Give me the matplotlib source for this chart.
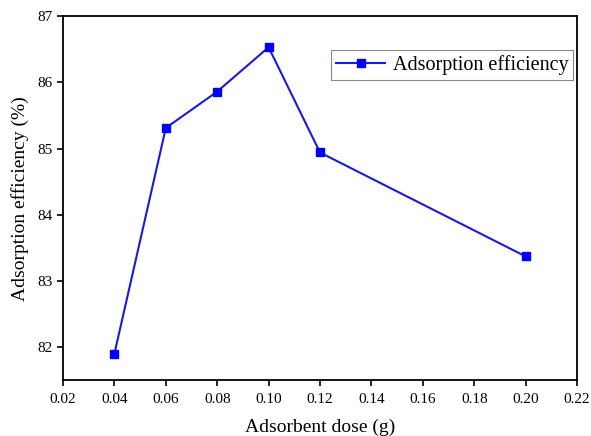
import matplotlib
matplotlib.use("Agg")
import matplotlib.pyplot as plt

# Adsorbent dose (g) vs adsorption efficiency (%)
dose = [0.04, 0.06, 0.08, 0.10, 0.12, 0.20]
efficiency = [81.90, 85.31, 85.86, 86.53, 84.94, 83.37]
x_ticks = [0.02, 0.04, 0.06, 0.08, 0.10, 0.12, 0.14, 0.16, 0.18, 0.20, 0.22]
y_ticks = [82, 83, 84, 85, 86, 87]

plt.rcParams["font.family"] = ["Liberation Serif", "DejaVu Serif"]

fig = plt.figure(figsize=(5.91, 4.36), dpi=100)
ax = fig.add_axes([0.1066, 0.128, 0.8697, 0.835])

ax.plot(dose, efficiency, color="#1a1adc", linewidth=1.5,
        marker="s", markersize=6, markerfacecolor="#0000ff",
        markeredgecolor="#0000ff", label="Adsorption efficiency")

ax.set_xlim(0.02, 0.22)
ax.set_ylim(81.5, 87)
ax.set_xticks(x_ticks)
ax.set_xticklabels([f"{t:.2f}" for t in x_ticks])
ax.set_yticks(y_ticks)
ax.tick_params(direction="out", length=4, width=1.2, labelsize=11)
ax.tick_params(axis="x", pad=5)

for spine in ax.spines.values():
    spine.set_linewidth(1.3)

ax.set_xlabel("Adsorbent dose (g)", fontsize=14, labelpad=9)
ax.set_ylabel("Adsorption efficiency (%)", fontsize=14, labelpad=6)

leg = ax.legend(loc="upper right", bbox_to_anchor=(0.993, 0.907),
                fontsize=14.5, fancybox=False, edgecolor="#888888",
                framealpha=1, handlelength=2.4, handletextpad=0.4,
                borderpad=0.25, borderaxespad=0)
leg.get_frame().set_linewidth(0.8)

fig.savefig("out.png", dpi=100)
plt.close(fig)
